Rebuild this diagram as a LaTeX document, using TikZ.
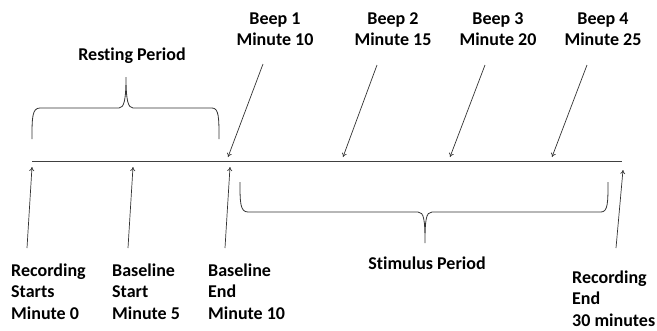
\documentclass[tikz,border=0pt]{standalone}
\usepackage{fontspec}
\setmainfont{Carlito}[Ligatures=NoCommon]
\usetikzlibrary{arrows.meta}
\begin{document}
\begin{tikzpicture}[x=1pt,y=-1pt,
  lbl/.style={font=\bfseries\fontsize{18}{21.5}\selectfont, align=left, inner sep=0pt},
  clbl/.style={font=\bfseries\fontsize{18}{21.5}\selectfont, align=center, inner sep=0pt},
  arr/.style={draw=black!80, line width=0.7pt, -{To[length=4pt,width=5pt]}},
  brace/.style={draw=black!80, line width=0.8pt},
  axis/.style={draw=black!75, line width=0.9pt}]
\useasboundingbox (0,0) rectangle (657,330);
% timeline
\coordinate (t0) at (32,161);
\coordinate (t1) at (622,161);
\draw[axis] (t0) -- (t1);
% top labels (base = last line)
\node[clbl, anchor=base] (b1) at (275,45.7) {Beep 1\\Minute 10};
\node[clbl, anchor=base] (b2) at (393,45.7) {Beep 2\\Minute 15};
\node[clbl, anchor=base] (b3) at (498,45.7) {Beep 3\\Minute 20};
\node[clbl, anchor=base] (b4) at (603,45.7) {Beep 4\\Minute 25};
\node[clbl, anchor=base] (rest) at (132,60) {Resting Period};
\node[clbl, anchor=base] (stim) at (427,269) {Stimulus Period};
% bottom labels
\node[lbl, anchor=base west] (rs) at (11,319) {Recording\\Starts\\Minute 0};
\node[lbl, anchor=base west] (bs) at (112,319) {Baseline\\Start\\Minute 5};
\node[lbl, anchor=base west] (be) at (208,319) {Baseline\\End\\Minute 10};
\node[lbl, anchor=base west] (re) at (572,326) {Recording\\End\\30 minutes};
% beep arrows
\coordinate (b1s) at (263,64); \coordinate (b1e) at (228,157);
\coordinate (b2s) at (377,65); \coordinate (b2e) at (343,157);
\coordinate (b3s) at (485,65); \coordinate (b3e) at (450,157);
\coordinate (b4s) at (587,65); \coordinate (b4e) at (552,157);
\draw[arr] (b1s) -- (b1e);
\draw[arr] (b2s) -- (b2e);
\draw[arr] (b3s) -- (b3e);
\draw[arr] (b4s) -- (b4e);
% up arrows
\coordinate (u1s) at (27,248); \coordinate (u1e) at (32,167);
\coordinate (u2s) at (128,248); \coordinate (u2e) at (133,167);
\coordinate (u3s) at (225,248); \coordinate (u3e) at (230,167);
\coordinate (u4s) at (616,248); \coordinate (u4e) at (623,170);
\draw[arr] (u1s) -- (u1e);
\draw[arr] (u2s) -- (u2e);
\draw[arr] (u3s) -- (u3e);
\draw[arr] (u4s) -- (u4e);
% resting brace
\draw[brace] (32,139) .. controls (32,118) and (32,108) .. (40,108)
  -- (119,108) .. controls (124,108) and (126,100) .. (126,77)
  .. controls (126,100) and (128,108) .. (133,108)
  -- (212,108) .. controls (219,108) and (219,118) .. (219,139);
% stimulus brace
\draw[brace] (240,182) .. controls (240,202) and (240,212) .. (248,212)
  -- (418,212) .. controls (424,212) and (425,220) .. (425,243)
  .. controls (425,220) and (426,212) .. (432,212)
  -- (601,212) .. controls (608,212) and (608,202) .. (608,182);
\end{tikzpicture}
\end{document}
